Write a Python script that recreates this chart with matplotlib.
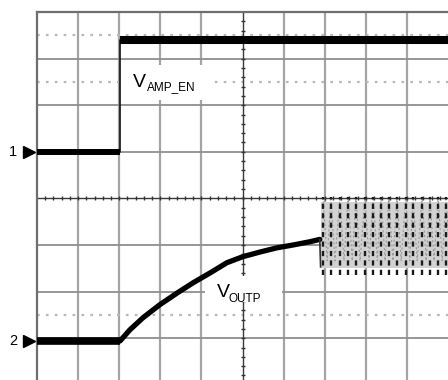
import numpy as np
import matplotlib
matplotlib.use("Agg")
import matplotlib.pyplot as plt
from matplotlib.patches import Rectangle

# ---- data (screen divisions: x 0..10, y 0..8) ----
ch1_t = [0.0, 2.02, 2.02, 10.0]
ch1_v = [5.0, 5.0, 7.40, 7.40]

ch2_t = [0.0, 2.02, 2.26, 2.58, 2.99, 3.41, 3.80, 4.21, 4.62, 5.01, 5.43, 5.84, 6.23, 6.64, 6.88, 6.90]
ch2_v = [0.94, 0.94, 1.18, 1.44, 1.72, 1.97, 2.19, 2.40, 2.62, 2.75, 2.85, 2.94, 3.00, 3.07, 3.12, 2.53]

osc_t = [6.96, 7.15, 7.37, 7.57, 7.76, 7.98, 8.18, 8.37, 8.56, 8.76, 8.97, 9.15, 9.37, 9.56, 9.76, 9.95]
osc_high = 4.03
osc_low = 2.36

ref_levels = [7.5, 6.5, 1.5]
marker_labels = ["1", "2"]
marker_levels = [5.0, 0.94]

label_main = ["V", "V"]
label_sub = ["AMP_EN", "OUTP"]

FONT = "Liberation Sans"

fig = plt.figure(figsize=(4.48, 3.80), dpi=100)
W, H = 448.0, 380.0
left_px, top_px = 37.0, 12.0
dx_px, dy_px = 41.1, 46.6
ax = fig.add_axes([left_px / W, 1 - (top_px + 8 * dy_px) / H,
                   10 * dx_px / W, 8 * dy_px / H])
ax.set_xlim(0, 10)
ax.set_ylim(0, 8)
ax.set_xticks([])
ax.set_yticks([])
for s in ["right", "bottom"]:
    ax.spines[s].set_visible(False)
for s in ["left", "top"]:
    ax.spines[s].set_color("#6e6e6e")
    ax.spines[s].set_linewidth(1.6)

# grid
for i in range(1, 10):
    if i == 5:
        continue
    ax.axvline(i, color="#a4a4a4", lw=1.6, zorder=1)
for j in range(1, 8):
    if j == 4:
        continue
    ax.axhline(j, color="#8f8f8f", lw=1.3, zorder=1)
# center lines with minor ticks
ax.axvline(5, color="#3a3a3a", lw=1.0, zorder=1.5)
ax.axhline(4, color="#3a3a3a", lw=1.0, zorder=1.5)
tx = np.arange(0.2, 10, 0.2)
ty = np.arange(0.2, 8, 0.2)
ax.plot(tx, np.full_like(tx, 4.0), ls="none", marker="|", ms=3.0, mew=1.0, color="#333333", zorder=1.6)
ax.plot(np.full_like(ty, 5.0), ty, ls="none", marker="_", ms=3.0, mew=1.0, color="#333333", zorder=1.6)

# dotted reference lines
for lv in ref_levels:
    ax.axhline(lv, color="#b8b8b8", lw=1.6, ls=(0, (1.2, 2.8)), zorder=1.2)

# label boxes (white background)
ax.add_patch(Rectangle((2.07, 6.12), 2.14, 0.75, facecolor="white", edgecolor="none", zorder=2))
ax.add_patch(Rectangle((4.09, 1.77), 1.87, 0.57, facecolor="white", edgecolor="none", zorder=2))

# channel 1
ax.plot(ch1_t, ch1_v, color="#111111", lw=1.2, zorder=4, solid_capstyle="butt")
ax.plot(ch1_t[:2], ch1_v[:2], color="black", lw=4.3, zorder=4, solid_capstyle="butt")
ax.plot(ch1_t[2:], ch1_v[2:], color="black", lw=5.8, zorder=4, solid_capstyle="butt")

# channel 2
ax.plot(ch2_t[:2], ch2_v[:2], color="black", lw=5.5, zorder=4, solid_capstyle="butt")
ax.plot(ch2_t[1:-1], ch2_v[1:-1], color="black", lw=3.8, zorder=4, solid_capstyle="round")
ax.plot(ch2_t[-2:], ch2_v[-2:], color="#333333", lw=1.2, zorder=4)

# oscillation burst
ax.fill_between([osc_t[0] - 0.06, 10], osc_low + 0.15, osc_high - 0.1, color="#d2d2d2", zorder=3, lw=0)
zx, zy = [], []
for t in osc_t:
    zx += [t, t + 0.1]
    zy += [osc_high, osc_low + 0.3]
ax.plot(zx, zy, color="#9a9a9a", lw=0.8, ls=(0, (2, 2)), zorder=3.5)
for t in osc_t:
    ax.plot([t, t], [osc_low, osc_high], color="#1a1a1a", lw=1.7,
            ls=(0, (2.2, 1.8)), zorder=4)

# labels
ax.text(2.34, 6.39, label_main[0], fontsize=14, family=FONT, ha="left", va="baseline", zorder=5)
ax.text(2.68, 6.33, label_sub[0], fontsize=8.5, family=FONT, ha="left", va="baseline", zorder=5)
ax.text(4.38, 1.89, label_main[1], fontsize=14, family=FONT, ha="left", va="baseline", zorder=5)
ax.text(4.65, 1.78, label_sub[1], fontsize=8.5, family=FONT, ha="left", va="baseline", zorder=5)

# channel ground markers
for lab, lv in zip(marker_labels, marker_levels):
    ax.plot([-0.19], [lv], marker=">", ms=9, color="black", clip_on=False, zorder=5)
    ax.text(-0.48, lv, lab, fontsize=10.5, family=FONT, ha="right", va="center", clip_on=False)

fig.savefig("out.png", dpi=100)
